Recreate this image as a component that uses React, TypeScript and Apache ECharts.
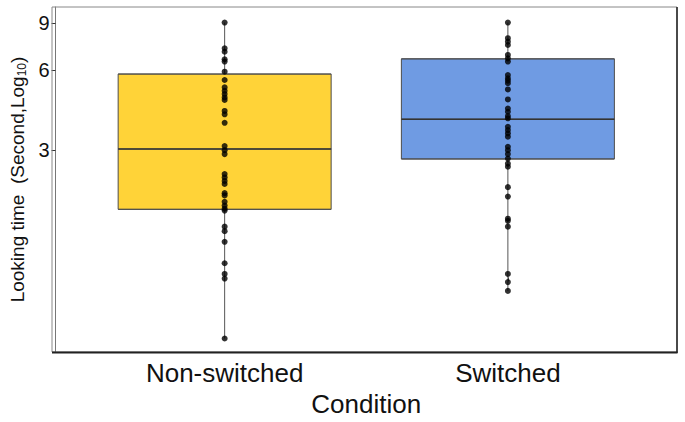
import React, { useEffect, useRef } from "react";
import * as echarts from "echarts";

// looking times in seconds (plotted on a log10 axis)
const categories = ["Non-switched", "Switched"];

const nonSwitched = [
  9.03, 7.23, 7.02, 6.58, 6.45, 5.91, 5.5, 5.16, 5.01, 4.87, 4.73, 4.63, 4.21, 4.09, 3.8,
  3.11, 3.0, 2.9, 2.44, 2.37, 2.3, 2.24, 2.07, 2.03, 1.92, 1.86, 1.81, 1.78, 1.55, 1.49,
  1.36, 1.13, 1.03, 0.99, 0.59,
];
const switched = [
  9.03, 7.89, 7.66, 7.44, 6.83, 6.63, 6.45, 5.74, 5.58, 5.47, 5.35, 5.07, 4.65, 4.3, 4.18,
  4.03, 3.95, 3.67, 3.57, 3.47, 3.37, 3.09, 3.0, 2.9, 2.79, 2.67, 2.6, 2.18, 2.01, 1.66,
  1.63, 1.55, 1.03, 0.96, 0.89,
];

// [min, Q1, median, Q3, max] in seconds
const boxStats = [
  [0.59, 1.8, 3.03, 5.79, 9.03],
  [0.89, 2.78, 3.92, 6.6, 9.03],
];

const boxColors = ["#FFD338", "#6F9BE3"];
const yTicks = [3, 6, 9];
const yMin = 0.525;
const yMax = 10.33;

const lg = (v: number) => Math.log10(v);

export default function App() {
  const ref = useRef<HTMLDivElement | null>(null);

  useEffect(() => {
    const chart = echarts.init(ref.current!, null, { renderer: "svg" });
    const font = "Liberation Sans, Arial, sans-serif";

    const points: number[][] = [];
    nonSwitched.forEach((v) => points.push([0, lg(v)]));
    switched.forEach((v) => points.push([1, lg(v)]));

    chart.setOption({
      animation: false,
      backgroundColor: "#ffffff",
      textStyle: { fontFamily: font },
      grid: { left: 79.5, right: 35.5, top: 7, bottom: 70 },
      xAxis: {
        type: "category",
        data: categories,
        axisLine: { show: false },
        axisTick: { show: true, alignWithLabel: true, length: 4, lineStyle: { color: "#333" } },
        axisLabel: { fontSize: 26, color: "#111", margin: 8, fontFamily: font },
        name: "Condition",
        nameLocation: "middle",
        nameGap: 31,
        nameTextStyle: { fontSize: 26, color: "#111", fontFamily: font },
        splitLine: { show: false },
      },
      yAxis: {
        type: "value",
        min: lg(yMin),
        max: lg(yMax),
        offset: 27.5,
        axisLine: { show: true, lineStyle: { color: "#777", width: 1 } },
        axisTick: {
          show: true,
          length: 4,
          customValues: yTicks.map(lg),
          lineStyle: { color: "#333" },
        },
        axisLabel: {
          customValues: yTicks.map(lg),
          formatter: (v: number) => String(Math.round(Math.pow(10, v))),
          fontSize: 20,
          color: "#111",
          margin: 6,
          fontFamily: font,
        },
        splitLine: { show: false },
        name: "Looking time  (Second,Log{sub|10})",
        nameLocation: "middle",
        nameGap: 25,
        nameTextStyle: {
          fontSize: 19,
          color: "#111",
          fontFamily: font,
          rich: {
            sub: { fontSize: 12, verticalAlign: "bottom", padding: [8, 0, 0, 0], color: "#111", fontFamily: font },
          },
        },
      },
      graphic: [
        {
          type: "rect",
          shape: { x: 52, y: 7, width: 625, height: 345 },
          style: { fill: "none", stroke: "#888", lineWidth: 1 },
          z: 100,
        },
        {
          type: "line",
          shape: { x1: 677, y1: 7, x2: 677, y2: 353 },
          style: { stroke: "#222", lineWidth: 1.5 },
          z: 101,
        },
        {
          type: "line",
          shape: { x1: 52, y1: 352.5, x2: 677.5, y2: 352.5 },
          style: { stroke: "#222", lineWidth: 2 },
          z: 101,
        },
      ],
      series: [
        {
          type: "custom",
          z: 1,
          data: boxStats.map((s, i) => [i, lg(s[0]), lg(s[4])]),
          renderItem: (params: any, api: any) => {
            const a = api.coord([api.value(0), api.value(1)]);
            const b = api.coord([api.value(0), api.value(2)]);
            return {
              type: "line",
              shape: { x1: a[0], y1: a[1], x2: b[0], y2: b[1] },
              style: { stroke: "#555", lineWidth: 1 },
            };
          },
        },
        {
          type: "boxplot",
          z: 2,
          boxWidth: [213, 213],
          data: boxStats.map((s, i) => ({
            value: [lg(s[1]), lg(s[1]), lg(s[2]), lg(s[3]), lg(s[3])],
            itemStyle: { color: boxColors[i], borderColor: "#4d4d4d", borderWidth: 1 },
          })),
          emphasis: { disabled: true },
        },
        {
          type: "custom",
          z: 3,
          data: boxStats.map((s, i) => [i, lg(s[2])]),
          renderItem: (params: any, api: any) => {
            const c = api.coord([api.value(0), api.value(1)]);
            return {
              type: "line",
              shape: { x1: c[0] - 106.5, y1: c[1], x2: c[0] + 106.5, y2: c[1] },
              style: { stroke: "#333", lineWidth: 1.6 },
            };
          },
        },
        {
          type: "scatter",
          z: 4,
          symbol: "circle",
          symbolSize: 6,
          data: points,
          itemStyle: { color: "#000" },
          emphasis: { disabled: true },
        },
      ],
    });

    return () => chart.dispose();
  }, []);

  return (
    <div
      ref={ref}
      style={{ position: "fixed", left: 0, top: 0, width: 685, height: 422, background: "#fff" }}
    />
  );
}
